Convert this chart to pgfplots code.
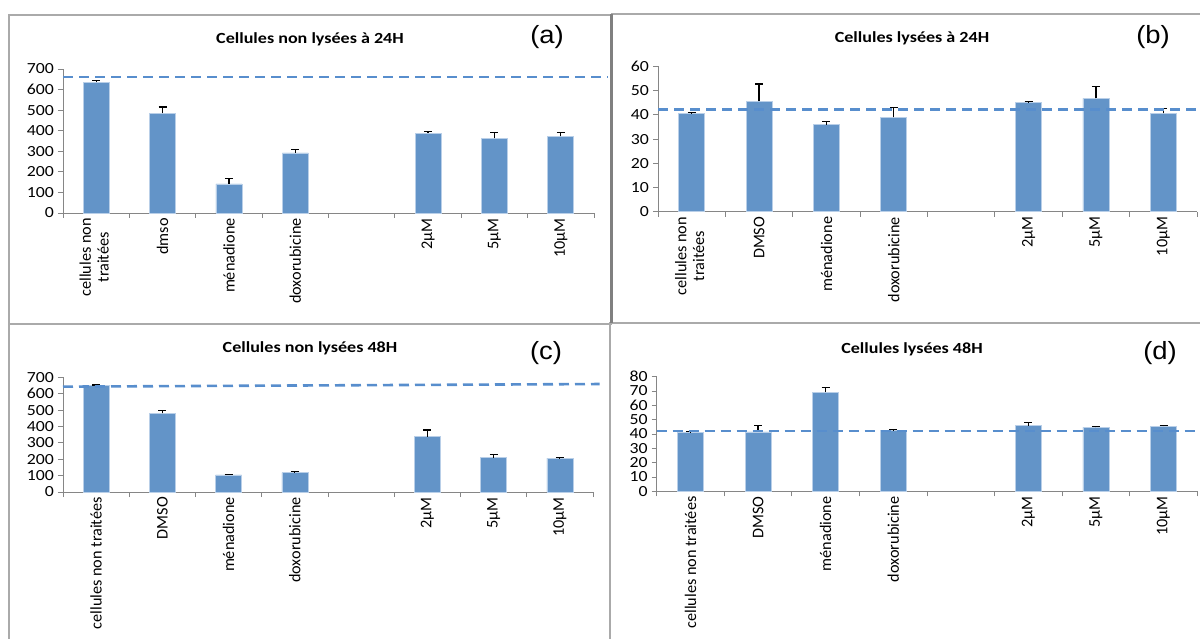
\documentclass[border=0pt]{standalone}
\usepackage{pgfplots}
\pgfplotsset{compat=1.18}
\usepackage{fontspec}
\setmainfont{Carlito}
\newfontfamily\arialf{Liberation Sans}
\definecolor{barblue}{RGB}{99,148,200}
\definecolor{baredge}{RGB}{185,207,232}
\definecolor{dashblue}{RGB}{88,142,205}
\definecolor{axgray}{RGB}{134,134,134}
\definecolor{framegray}{RGB}{170,170,170}
\newcommand\hs[1]{\scalebox{1.15}[1]{#1}}
\newcommand\ts[1]{\scalebox{1.17}[1]{#1}}
\newcommand\lab[1]{\begin{tabular}{@{}c@{}}#1\end{tabular}}
\pgfplotsset{
 panel/.style={
  scale only axis, clip=false,
  xmin=-0.5, xmax=7.5, ymin=0,
  axis x line*=bottom, axis y line*=left,
  axis line style={draw=axgray, line width=0.9bp, -},
  xtick={0,1,2,3,5,6,7},
  major x tick style={draw=none},
  minor xtick={-0.5,0.5,...,7.5},
  minor x tick style={draw=axgray, line width=0.9bp},
  ytick style={draw=axgray, line width=0.9bp},
  tick align=outside,
  major tick length=5bp, minor tick length=5bp,
  yticklabel style={font=\fontsize{15.5}{16}\selectfont, text=black},
  xticklabel style={font=\fontsize{16.3}{18}\selectfont, text=black},
  /pgf/number format/assume math mode=true,
  yticklabel={\hs{\pgfmathprintnumber{\tick}}},
  yticklabel style={anchor=east, inner sep=0pt, xshift=-4bp},
  xticklabel style={rotate=90, anchor=east, inner sep=0pt},
 },
 bars/.style={ybar, bar width=26bp, fill=barblue, draw=baredge, line width=0.7bp,
   error bars/y dir=plus, error bars/y explicit,
   error bars/error bar style={black, line width=1.2bp, solid},
   error bars/error mark options={black, line width=1.2bp, mark size=4bp, rotate=90, solid}},
 dline/.style={dashblue, line width=2.6bp, dash pattern=on 10bp off 6bp}
}
\begin{document}
\begin{tikzpicture}
\useasboundingbox (0,0) rectangle (1200bp,639bp);
% panel frames
\draw[framegray, line width=1.4bp] (9bp,315bp) rectangle (611bp,624bp);
\draw[framegray, line width=1.4bp] (612bp,316bp) rectangle (1206bp,625bp);
\draw[framegray, line width=1.4bp] (9bp,-6bp) rectangle (610bp,315bp);
\draw[framegray, line width=1.4bp] (610bp,-6bp) rectangle (1206bp,316bp);
\draw[gray, line width=2.4bp] (611.5bp,316bp) -- (611.5bp,625bp);
% titles
\node[font=\bfseries\fontsize{15.5}{17}\selectfont] at (310bp,600bp) {\ts{Cellules non lysées à 24H}};
\node[font=\bfseries\fontsize{15.5}{17}\selectfont] at (912bp,600.5bp) {\ts{Cellules lysées à 24H}};
\node[font=\bfseries\fontsize{15.5}{17}\selectfont] at (310bp,291bp) {\ts{Cellules non lysées 48H}};
\node[font=\bfseries\fontsize{15.5}{17}\selectfont] at (912bp,290bp) {\ts{Cellules lysées 48H}};
\node[font=\arialf\fontsize{25}{27}\selectfont] at (547bp,602bp) {\scalebox{1.1}[1]{(a)}};
\node[font=\arialf\fontsize{25}{27}\selectfont] at (1153bp,602bp) {\scalebox{1.1}[1]{(b)}};
\node[font=\arialf\fontsize{25}{27}\selectfont] at (546bp,286bp) {\scalebox{1.1}[1]{(c)}};
\node[font=\arialf\fontsize{25}{27}\selectfont] at (1160bp,286bp) {\scalebox{1.1}[1]{(d)}};

% (a)
\begin{axis}[panel, at={(63bp,426bp)}, anchor=south west, width=531bp, height=144bp,
  ymax=700, ytick={0,100,...,700},
  xticklabels={{\lab{cellules non\\traitées}},dmso,ménadione,doxorubicine,2µM,5µM,10µM}]
\addplot[bars] coordinates {(0,636) +- (0,8) (1,485) +- (0,30) (2,141) +- (0,25) (3,292) +- (0,16)
  (5,388) +- (0,7) (6,363) +- (0,30) (7,373) +- (0,20)};
\addplot[dline] coordinates {(-0.5,661) (7.71,661)};
\end{axis}

% (b)
\begin{axis}[panel, at={(658bp,427.3bp)}, anchor=south west, width=539bp, height=145.2bp,
  ymax=60, ytick={0,10,...,60},
  xticklabels={{\lab{cellules non\\traitées}},DMSO,ménadione,doxorubicine,2µM,5µM,10µM}]
\addplot[bars] coordinates {(0,40.5) +- (0,0.6) (1,45.6) +- (0,7.2) (2,36.0) +- (0,1.3) (3,39.0) +- (0,4.2)
  (5,45.1) +- (0,0.3) (6,46.8) +- (0,5.0) (7,40.6) +- (0,2.0)};
\addplot[dline] coordinates {(-0.5,42.3) (8.6,42.3)};
\end{axis}

% (c)
\begin{axis}[panel, at={(63bp,147bp)}, anchor=south west, width=530bp, height=114.7bp,
  ymax=700, ytick={0,100,...,700},
  xticklabels={cellules non traitées,DMSO,ménadione,doxorubicine,2µM,5µM,10µM}]
\addplot[bars] coordinates {(0,648) +- (0,5) (1,480) +- (0,19) (2,104) +- (0,5) (3,118) +- (0,5)
  (5,338) +- (0,40) (6,209) +- (0,19) (7,206) +- (0,3)};
\addplot[dline] coordinates {(-0.5,643) (7.6,659)};
\end{axis}

% (d)
\begin{axis}[panel, at={(656.7bp,147.7bp)}, anchor=south west, width=540.6bp, height=114.6bp,
  ymax=80, ytick={0,10,...,80},
  xticklabels={cellules non traitées,DMSO,ménadione,doxorubicine,2µM,5µM,10µM}]
\addplot[bars] coordinates {(0,41.2) +- (0,0.5) (1,41.4) +- (0,4.4) (2,69.3) +- (0,3.3) (3,42.3) +- (0,0.7)
  (5,45.7) +- (0,2.4) (6,44.6) +- (0,0.8) (7,45.5) +- (0,0.5)};
\addplot[dline] coordinates {(-0.5,42.1) (8.6,42.1)};
\end{axis}
\end{tikzpicture}
\end{document}
